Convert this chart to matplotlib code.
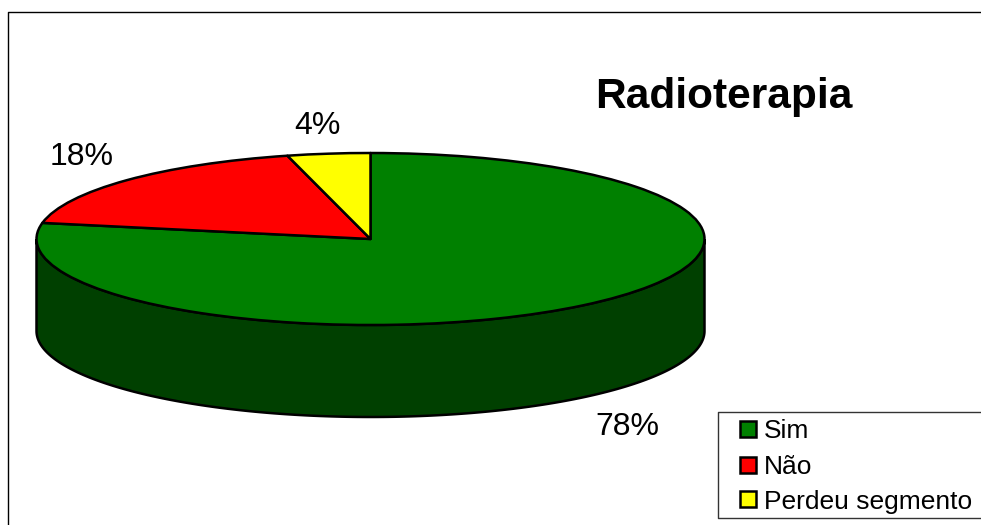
import numpy as np
import matplotlib
matplotlib.use("Agg")
import matplotlib.pyplot as plt
from matplotlib.patches import Rectangle

categorias = ["Sim", "Não", "Perdeu segmento"]
valores = [78, 18, 4]
cores = ["#008000", "#FF0000", "#FFFF00"]
titulo = "Radioterapia"

W, H = 981, 525
plt.rcParams['font.family'] = ['Liberation Sans', 'DejaVu Sans']
fig = plt.figure(figsize=(W / 100, H / 100), dpi=100)

# camada em pixels para moldura, textos e legenda
bg = fig.add_axes([0, 0, 1, 1])
bg.set_xlim(0, W)
bg.set_ylim(H, 0)
bg.axis('off')
bg.plot([8, 8, W + 5], [H + 5, 12, 12], color='black', lw=1, clip_on=False)

#%% pizza: elipse de 334 x 86 px com centro em (370, 239)
cx, cy, rx, ry, prof = 370.5, 239, 334, 86, 92
ax = fig.add_axes([(cx - rx) / W, 1 - (cy + ry) / H, 2 * rx / W, 2 * ry / H])
ax.patch.set_alpha(0)
wedges, _ = ax.pie(valores, colors=cores, startangle=90, counterclock=False,
                   radius=1, wedgeprops=dict(edgecolor='black', linewidth=1.8, zorder=3,
                                             clip_on=False, joinstyle='round'))
ax.set_aspect('auto')
ax.set_xlim(-1, 1)
ax.set_ylim(-1, 1)

# lateral da pizza
t = np.linspace(np.pi, 2 * np.pi, 200)
d = prof / ry
xs = np.concatenate([np.cos(t), np.cos(t[::-1])])
ys = np.concatenate([np.sin(t) - d, np.sin(t[::-1])])
ax.fill(xs, ys, facecolor='#004000', edgecolor='black', linewidth=1.8, zorder=1, clip_on=False)

#%% textos
bg.text(723.5, 97, titulo, fontsize=30.5, fontweight='bold', ha='center', va='center', color='black')
pos_rotulos = [(627.5, 427), (81.5, 157), (317.5, 126)]
for v, (x, y) in zip(valores, pos_rotulos):
    bg.text(x, y, "%d%%" % v, fontsize=23, ha='center', va='center', color='black')

#%% legenda
bg.plot([W + 5, 717.5, 717.5, W + 5], [411.5, 411.5, 517.5, 517.5], color='#333333', lw=1, clip_on=False)
ys_leg = [429, 465, 499]
for nome, cor, y in zip(categorias, cores, ys_leg):
    bg.add_patch(Rectangle((740, y - 8), 16, 16, facecolor=cor, edgecolor='black', linewidth=1.8))
    bg.text(764, y + 2.5, nome, fontsize=19, ha='left', va='center', color='black')

fig.savefig("out.png", dpi=100)
